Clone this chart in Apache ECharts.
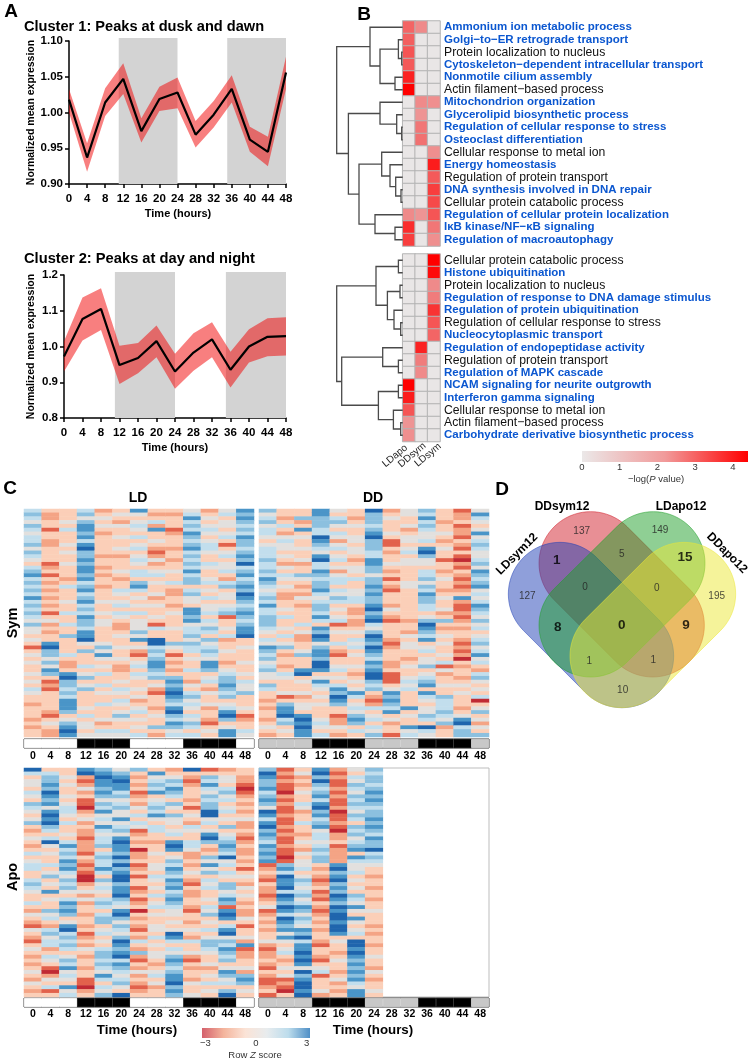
<!DOCTYPE html>
<html>
<head>
<meta charset="utf-8">
<style>html,body{margin:0;padding:0;background:#fff}#main{width:750px;height:1060px}</style>
<script src="https://cdn.jsdelivr.net/npm/echarts@6/dist/echarts.min.js"></script>
</head>
<body>
<div id="main"></div>
<script>
var FONT = 'Liberation Sans'
// panel A
var hours = [0, 4, 8, 12, 16, 20, 24, 28, 32, 36, 40, 44, 48]
var darkBands = [[11, 24], [35, 48]]
var c1Mean = [1.018, 0.937, 1.014, 1.047, 0.974, 1.019, 1.028, 0.969, 0.997, 1.033, 0.962, 0.945, 1.056]
var c1Hi = [1.033, 0.957, 1.034, 1.069, 0.992, 1.036, 1.049, 0.988, 1.016, 1.052, 0.980, 0.966, 1.078]
var c1Lo = [1.000, 0.917, 0.995, 1.026, 0.958, 1.002, 1.006, 0.951, 0.979, 1.014, 0.945, 0.925, 1.033]
var c2Mean = [0.972, 1.077, 1.105, 0.948, 0.968, 1.015, 0.930, 0.983, 1.020, 0.935, 1.000, 1.027, 1.029]
var c2Hi = [1.015, 1.137, 1.163, 1.002, 1.010, 1.059, 0.980, 1.037, 1.068, 0.985, 1.048, 1.079, 1.082]
var c2Lo = [0.930, 1.017, 1.046, 0.895, 0.925, 0.970, 0.882, 0.932, 0.970, 0.885, 0.955, 0.973, 0.975]

// panel B, rows are [LDapo, DDsym, LDsym]
var goCols = ['LDapo', 'DDsym', 'LDsym']
var goTopTerms = ['Ammonium ion metabolic process', 'Golgi\u2212to\u2212ER retrograde transport', 'Protein localization to nucleus', 'Cytoskeleton\u2212dependent intracellular transport', 'Nonmotile cilium assembly', 'Actin filament\u2212based process', 'Mitochondrion organization', 'Glycerolipid biosynthetic process', 'Regulation of cellular response to stress', 'Osteoclast differentiation', 'Cellular response to metal ion', 'Energy homeostasis', 'Regulation of protein transport', 'DNA synthesis involved in DNA repair', 'Cellular protein catabolic process', 'Regulation of cellular protein localization', 'I\u03baB kinase/NF\u2212\u03baB signaling', 'Regulation of macroautophagy']
var goTopBold = [1, 1, 0, 1, 1, 0, 1, 1, 1, 1, 0, 1, 0, 1, 0, 1, 1, 1]
var goTopVals = [[2.6, 1.9, 0], [2.7, 0, 0], [2.9, 0, 0], [2.8, 0, 0], [3.8, 0, 0], [4.4, 0, 0], [0, 1.9, 1.8], [0, 1.7, 0], [0, 2.3, 0], [0, 2.4, 0], [0, 0, 1.8], [0, 0, 3.9], [0, 0, 2.8], [0, 0, 3.3], [0, 0, 3.1], [1.9, 1.7, 2.9], [3.6, 0, 2.3], [3.3, 0, 1.8]]
var goBotTerms = ['Cellular protein catabolic process', 'Histone ubiquitination', 'Protein localization to nucleus', 'Regulation of response to DNA damage stimulus', 'Regulation of protein ubiquitination', 'Regulation of cellular response to stress', 'Nucleocytoplasmic transport', 'Regulation of endopeptidase activity', 'Regulation of protein transport', 'Regulation of MAPK cascade', 'NCAM signaling for neurite outgrowth', 'Interferon gamma signaling', 'Cellular response to metal ion', 'Actin filament\u2212based process', 'Carbohydrate derivative biosynthetic process']
var goBotBold = [0, 1, 0, 1, 1, 0, 1, 1, 0, 1, 1, 1, 0, 0, 1]
var goBotVals = [[0, 0, 4.4], [0, 0, 4.2], [0, 0, 1.9], [0, 0, 2.2], [0, 0, 3.5], [0, 0, 2.9], [0, 0, 2.6], [0, 3.8, 0], [0, 2.2, 0], [0, 1.9, 0], [4.4, 0, 0], [3.9, 0, 0], [2.9, 0, 0], [1.7, 0, 0], [1.8, 0, 0]]
// dendrogram brackets: [node height, row a, height a, row b, height b]
var dendroTop = [[1, 2, 0, 3, 0], [4.3, 1, 0, 2.5, 1], [7.7, 4, 0, 5, 0], [22.7, 1.75, 4.3, 4.5, 7.7], [32.7, 0, 0, 3.1, 22.7], [1, 8, 0, 9, 0], [6, 7, 0, 8.5, 1], [22.7, 6, 0, 7.75, 6], [1.7, 13, 0, 14, 0], [7, 12, 0, 13.5, 1.7], [12.7, 11, 0, 12.75, 7], [21, 10, 0, 11.9, 12.7], [7.7, 16, 0, 17, 0], [27.7, 15, 0, 16.5, 7.7], [43.7, 10.95, 21, 15.75, 27.7], [54.3, 6.9, 22.7, 13.35, 43.7], [66, 1.55, 32.7, 10.1, 54.3]]
var dendroBot = [[4.3, 0, 0, 1, 0], [2.7, 2, 0, 3, 0], [2, 5, 0, 6, 0], [8.7, 4, 0, 5.5, 2], [15.3, 2.5, 2.7, 4.75, 8.7], [26.7, 0.5, 4.3, 3.6, 15.3], [4.3, 8, 0, 9, 0], [20, 7, 0, 8.5, 4.3], [4.3, 10, 0, 11, 0], [2, 13, 0, 14, 0], [9.3, 12, 0, 13.5, 2], [24.3, 10.5, 4.3, 12.75, 9.3], [61, 7.75, 20, 11.6, 24.3], [66, 2.05, 26.7, 9.7, 61]]

// panel C, one string per time column, one digit per row band (0 red .. 4 neutral .. 8 blue)
var ldSymCols = [
  '5654654556 4654356756 5657565654 6443431343 4334343543 3233323233',
  '3223313322 3333123132 3232323134 2323378664 6476312133 3332134322',
  '3334353334 3433433323 5333433533 5336333353 2237866565 7776346787',
  '5646776757 8667677675 6756756576 6577843633 3534634633 3343534434',
  '2343432333 3323323233 2333433434 4333346474 3435335343 3533342354',
  '3432433433 4323334323 3543453543 2234334334 3223343543 5434643354',
  '7434543534 5345435536 7534343534 4464734213 4535433434 2345343435',
  '3235273343 2124234534 3342343343 1533885656 7765634213 3323433632',
  '3233312333 2332334335 3223323433 3433364313 2323676787 6578657645',
  '4575657656 7565657566 3564437767 4556465534 3353324356 4543546535',
  '2343454345 5433543345 3435344535 4653645654 7763453243 3423321343',
  '4534434531 3453445325 6344345613 3435233433 2345667656 3457863477',
  '7676565766 5676856756 7687656765 6778334333 4334354463 3343123354'
]
var ddSymCols = [
  '6456455434 5556556576 5456575566 6543547656 4564436533 2323323432',
  '3323532454 4343243543 4322334353 3435346323 3235433341 3677856343',
  '3362373433 4334233643 2324323333 5342233463 3378343342 3443787877',
  '7766655876 5478557656 6754566575 3768746776 8873475434 3433345435',
  '4356435424 5345342455 3546534345 1343353213 3453435768 7633122432',
  '3323433443 4432344353 3445532232 2343545343 3432343475 3454676353',
  '8666567866 6557766466 7676678678 5468768765 7678865632 1253453546',
  '2343334311 3233432313 2133324321 3333212333 2231113476 7657342331',
  '4433423443 4534433334 4333333332 3324344332 3433454533 3373433745',
  '6575654453 7864435564 6576655346 8765734534 4634567375 4344653854',
  '3332334323 4331332343 3234334236 3234343343 5142334336 5556546233',
  '1223122132 1310213212 1237211212 3233212120 3233234343 3323478566',
  '4754347456 5445647656 7454576546 4534564574 5325643435 0346342436'
]
var ldApoCols = [
  '8534435436 5434632343 2353455335 6543353243 2143213432 3234324323',
  '3566768767 4787865358 4343353463 4373433645 3256455235 4310243513',
  '3343433434 5543533435 7565767546 5643576763 4785656534 6574543745',
  '7821242311 0234232212 2213212100 2342423323 3231232432 3323311023',
  '6787767646 5745475455 6356557536 4543565356 6345343566 5654753546',
  '4678775645 6447456478 7768686788 6778654786 4654687678 5765456438',
  '6323231232 4353541232 3022312313 3123123032 3213253262 1324232123',
  '3745657345 6574355332 3343344354 3435345343 3443534344 3234534233',
  '2346576536 4364434537 8734657657 6756765443 4348753546 7656778676',
  '8321233323 1343254335 5422323432 1322332133 2343253342 1323324334',
  '1365754656 6884534786 3236474635 4533435463 4353466543 3423435343',
  '2344356453 4534363456 7658453543 6645761787 3578465765 6347645368',
  '3322101232 3234223212 3223231343 2434323224 3133427122 3342676343'
]
var ddApoCols = [
  '6876675676 4875786765 7676712321 3221234123 2323342122 3213211231',
  '1212110212 1121121211 2110167587 7858768758 7674743453 2343412103',
  '3423234335 4233533234 3243445346 5456457646 5476857787 8748678878',
  '7868656757 8675674554 5656632321 2312132123 2323321332 1345133342',
  '2121121211 2011210223 1222278678 6768768788 7887343323 4332342323',
  '4354654656 5465365645 6737544534 3436547437 4345388787 6767675477',
  '6566567676 5667676576 6856543323 3233233433 3232332334 3324323343'
]
var ldPhase = [1, 1, 1, 0, 0, 0, 1, 1, 1, 0, 0, 0, 1]
var zColors = ['#c02a34', '#e2624c', '#f4a485', '#fbcfb8', '#e2e0de', '#c2deed', '#8cc0df', '#4a95c8', '#1f65ad']

// panel D, capsules in image-scale units: [x1, y1, x2, y2, radius, colour]
var vennShapes = [
  [302, 250, 488, 436, 155, '#d1202c'],
  [210, 342, 396, 528, 155, '#1f3fb5'],
  [490, 250, 302, 436, 155, '#1f9f2a'],
  [582, 342, 395, 528, 155, '#ebe735']
]
var vennCounts = [['137', 275, 155, 0], ['149', 510, 150, 0], ['127', 112, 350, 0], ['195', 680, 348, 0], ['1', 200, 240, 1], ['5', 395, 222, 0], ['15', 585, 233, 1], ['0', 285, 323, 0], ['0', 500, 326, 0], ['8', 203, 443, 1], ['0', 395, 437, 1], ['9', 588, 435, 1], ['1', 298, 543, 0], ['1', 490, 542, 0], ['10', 398, 630, 0]]

var grids = [], xAxes = [], yAxes = [], series = [], visualMaps = [], texts = []

function addCart(grid, xAxis, yAxis) {
  grids.push(grid)
  xAxis.gridIndex = grids.length - 1
  yAxis.gridIndex = grids.length - 1
  xAxes.push(xAxis)
  yAxes.push(yAxis)
  return grids.length - 1
}

function txt(text, x, y, size, opts) {
  opts = opts || {}
  var font = (opts.bold === false ? '' : 'bold ') + size + 'px "' + FONT + '"'
  var fill = opts.color || '#000'
  texts.push({
    type: 'text', x: x, y: y, rotation: (opts.rot || 0) * Math.PI / 180, z: 50,
    style: {
      text: text, fill: fill, textAlign: opts.align || 'center', textVerticalAlign: 'middle', font: font,
      rich: { i: { font: 'italic ' + size + 'px "' + FONT + '"', fill: fill } }
    }
  })
}

// time course panel with shaded nights and a red band
function addCluster(left, width, top, height, min, max, interval, digits, mean, hi, lo, bandTop, nameGap) {
  var g = addCart({ left: left, top: top, width: width, height: height }, {
    type: 'value', min: 0, max: 48, interval: 4,
    axisLine: { onZero: false, lineStyle: { color: '#000', width: 1.5 } },
    axisTick: { length: 4, lineStyle: { color: '#000', width: 1.5 } },
    splitLine: { show: false },
    axisLabel: { color: '#000', fontFamily: FONT, fontWeight: 'bold', fontSize: 11.5, margin: 9 }
  }, {
    type: 'value', min: min, max: max, interval: interval,
    name: 'Normalized mean expression', nameLocation: 'middle', nameGap: nameGap,
    nameTextStyle: { color: '#000', fontFamily: FONT, fontWeight: 'bold', fontSize: 10.5 },
    axisLine: { show: true, onZero: false, lineStyle: { color: '#000', width: 1.5 } },
    axisTick: { show: true, length: 4, lineStyle: { color: '#000', width: 1.5 } },
    splitLine: { show: false },
    axisLabel: { color: '#000', fontFamily: FONT, fontWeight: 'bold', fontSize: 11.5, margin: 6, formatter: function (v) { return v.toFixed(digits) } }
  })
  series.push({
    type: 'custom', xAxisIndex: g, yAxisIndex: g, clip: false, z: 1, silent: true,
    data: darkBands, encode: { x: [0, 1] },
    renderItem: function (params, api) {
      var a = api.coord([api.value(0), max])
      var b = api.coord([api.value(1), min])
      return { type: 'rect', shape: { x: a[0], y: bandTop, width: b[0] - a[0], height: b[1] - bandTop }, style: { fill: '#d3d3d3' } }
    }
  })
  series.push({
    type: 'custom', xAxisIndex: g, yAxisIndex: g, z: 2, silent: true,
    data: hours.map(function (h, i) { return [h, lo[i], hi[i]] }), encode: { x: 0, y: [1, 2] },
    renderItem: function (params, api) {
      if (params.dataIndex !== 0) return null
      var upper = hours.map(function (h, i) { return api.coord([h, hi[i]]) })
      var lower = hours.map(function (h, i) { return api.coord([h, lo[i]]) }).reverse()
      return { type: 'polygon', shape: { points: upper.concat(lower) }, style: { fill: 'rgba(242,0,0,0.5)' } }
    }
  })
  series.push({
    type: 'line', xAxisIndex: g, yAxisIndex: g, symbol: 'none', z: 3,
    lineStyle: { color: '#000', width: 2.2 }, data: hours.map(function (h, i) { return [h, mean[i]] })
  })
}

// enrichment heatmap + term labels
function addGoHeat(top, vals, terms, bold) {
  var g = addCart({ left: 402.7, top: top, width: 37.3, height: 12.5 * terms.length }, {
    type: 'category', data: goCols, axisLine: { show: false }, axisTick: { show: false }, axisLabel: { show: false }
  }, {
    type: 'category', data: terms, inverse: true, position: 'right', axisLine: { show: false }, axisTick: { show: false },
    axisLabel: {
      show: true, interval: 0, margin: 4,
      formatter: function (v, i) { return (bold[i] ? '{b|' : '{n|') + v + '}' },
      rich: {
        b: { fontFamily: FONT, fontWeight: 'bold', fontSize: 11.5, color: '#0b57d0' },
        n: { fontFamily: FONT, fontSize: 12.2, color: '#111' }
      }
    }
  })
  var data = []
  vals.forEach(function (row, r) { row.forEach(function (v, c) { data.push([c, r, v]) }) })
  visualMaps.push({ show: false, min: 0, max: 4.4, dimension: 2, seriesIndex: series.length, inRange: { color: ['#e9e6e6', '#f07c7c', '#ff0000'] } })
  series.push({ type: 'heatmap', xAxisIndex: g, yAxisIndex: g, data: data, itemStyle: { borderColor: '#b3b3b3', borderWidth: 1 } })
}

function addDendro(top, rows, brackets) {
  var g = addCart({ left: 336, top: top, width: 66.7, height: 12.5 * rows }, { type: 'value', min: 0, max: 66.7, inverse: true, show: false }, { type: 'value', min: -0.5, max: rows - 0.5, inverse: true, show: false })
  series.push({
    type: 'custom', xAxisIndex: g, yAxisIndex: g, silent: true, data: brackets, clip: false,
    encode: { x: [0, 2, 4], y: [1, 3] },
    renderItem: function (params, api) {
      var h = api.value(0), r1 = api.value(1), h1 = api.value(2), r2 = api.value(3), h2 = api.value(4)
      return {
        type: 'polyline',
        shape: { points: [api.coord([h1, r1]), api.coord([h, r1]), api.coord([h, r2]), api.coord([h2, r2])] },
        style: { stroke: '#4a4a4a', lineWidth: 1.3, fill: null }
      }
    }
  })
}

function addZHeat(left, top, width, height, rawCols) {
  var cols = rawCols.map(function (c) { return c.replace(/ /g, '') })
  var rowIdx = cols[0].split('').map(function (d, i) { return i })
  var g = addCart({ left: left, top: top, width: width, height: height }, { type: 'category', data: hours, show: false }, { type: 'category', data: rowIdx, inverse: true, show: false })
  var data = []
  cols.forEach(function (col, c) {
    for (var r = 0; r < col.length; r++) data.push([c, r, +col[r]])
  })
  visualMaps.push({ show: false, min: 0, max: 8, dimension: 2, seriesIndex: series.length, inRange: { color: zColors } })
  series.push({ type: 'heatmap', xAxisIndex: g, yAxisIndex: g, data: data, progressive: 0 })
}

function addPhaseBar(left, top, width, lightColor, margin) {
  var g = addCart({ left: left, top: top, width: width, height: 9, show: true, borderColor: '#333', borderWidth: 1, backgroundColor: '#fff' }, {
    type: 'category', data: hours, axisLine: { show: false }, axisTick: { show: false },
    axisLabel: { interval: 0, margin: margin, color: '#000', fontFamily: FONT, fontWeight: 'bold', fontSize: 10.5 }
  }, { type: 'value', min: 0, max: 1, show: false })
  series.push({
    type: 'bar', xAxisIndex: g, yAxisIndex: g, barWidth: '100%', silent: true,
    data: ldPhase.map(function (p) {
      var color = p ? lightColor : '#000'
      return { value: 1, itemStyle: { color: color, borderColor: color, borderWidth: 0.7 } }
    })
  })
}

// gradient strip with an axis underneath, used by both colour keys
function addKey(left, top, width, height, min, max, ticks, colors, size) {
  var g = addCart({ left: left, top: top, width: width, height: height }, {
    type: 'value', min: min, max: max,
    axisLine: { show: false }, splitLine: { show: false },
    axisTick: { show: false },
    axisLabel: { customValues: ticks, margin: 0, color: '#333', fontFamily: FONT, fontSize: size, showMinLabel: true, showMaxLabel: true, formatter: function (v) { return v < 0 ? '\u2212' + (-v) : v } }
  }, { type: 'value', min: 0, max: 1, show: false })
  series.push({
    type: 'line', xAxisIndex: g, yAxisIndex: g, data: [], silent: true,
    markArea: {
      silent: true,
      itemStyle: { color: new echarts.graphic.LinearGradient(0, 0, 1, 0, colors.map(function (c, i) { return { offset: i / (colors.length - 1), color: c } })), opacity: 1 },
      data: [[{ xAxis: min, yAxis: 0 }, { xAxis: max, yAxis: 1 }]]
    }
  })
}

function addVenn() {
  var g = addCart({ left: 490, top: 480, width: 260, height: 290 }, { type: 'value', min: 0, max: 780, show: false }, { type: 'value', min: 0, max: 870, inverse: true, show: false })
  series.push({
    type: 'custom', xAxisIndex: g, yAxisIndex: g, silent: true, data: vennShapes.map(function (s, i) { return [s[0], s[1], s[2], s[3], s[4], i] }),
    renderItem: function (params, api) {
      var s = vennShapes[params.dataIndex]
      var ang = Math.atan2(s[3] - s[1], s[2] - s[0])
      var pts = []
      for (var k = 0; k <= 40; k++) {
        var a = ang + Math.PI / 2 + Math.PI * k / 40
        pts.push(api.coord([s[0] + s[4] * Math.cos(a), s[1] + s[4] * Math.sin(a)]))
      }
      for (k = 0; k <= 40; k++) {
        a = ang - Math.PI / 2 + Math.PI * k / 40
        pts.push(api.coord([s[2] + s[4] * Math.cos(a), s[3] + s[4] * Math.sin(a)]))
      }
      return { type: 'polygon', shape: { points: pts }, style: { fill: s[5], opacity: 0.5, stroke: s[5], lineWidth: 1 } }
    }
  })
  series.push({
    type: 'scatter', xAxisIndex: g, yAxisIndex: g, symbolSize: 0, silent: true, z: 10,
    data: vennCounts.map(function (c) {
      return {
        value: [c[1], c[2]],
        label: {
          show: true, position: 'inside', formatter: c[0], fontFamily: FONT, color: c[3] ? '#000' : '#222',
          fontWeight: c[3] ? 'bold' : 'normal', fontSize: c[3] ? 13.5 : 10
        }
      }
    })
  })
}

addCluster(69, 217, 41, 143, 0.9, 1.1, 0.05, 2, c1Mean, c1Hi, c1Lo, 38, 32)
addCluster(64, 222, 275, 143, 0.8, 1.2, 0.1, 1, c2Mean, c2Hi, c2Lo, 272, 27)

addGoHeat(21, goTopVals, goTopTerms, goTopBold)
addGoHeat(254, goBotVals, goBotTerms, goBotBold)
addDendro(21, 18, dendroTop)
addDendro(254, 15, dendroBot)
addKey(582, 451, 166, 11, 0, 4.4, [0, 1, 2, 3, 4], ['#ebe8e8', '#f19a9a', '#ff0000'], 9.5)

addZHeat(24, 509, 230, 228, ldSymCols)
addZHeat(259, 509, 230, 228, ddSymCols)
addZHeat(24, 768, 230, 229, ldApoCols)
addCart({ left: 259, top: 768, width: 230, height: 229, show: true, borderColor: '#bdbdbd', borderWidth: 1 }, { type: 'category', data: [], show: false }, { type: 'value', show: false })
addZHeat(259, 768, 230, 229, ddApoCols)
addPhaseBar(24, 739, 230, '#fff', 3)
addPhaseBar(259, 739, 230, '#c8c8c8', 3)
addPhaseBar(24, 998, 230, '#fff', 2)
addPhaseBar(259, 998, 230, '#c8c8c8', 2)
addKey(202, 1028, 108, 10, -3.2, 3.2, [-3, 0, 3], ['#d4606c', '#f4b49c', '#fbe3d6', '#e8ecee', '#bcdcec', '#4f8fc6'], 9.5)

addVenn()

// text
txt('A', 11, 12, 19)
txt('B', 364, 15, 19)
txt('C', 10, 489, 19)
txt('D', 502, 490, 19)
txt('Cluster 1: Peaks at dusk and dawn', 24, 27, 14.6, { align: 'left' })
txt('Cluster 2: Peaks at day and night', 24, 259, 14.7, { align: 'left' })
txt('Time (hours)', 178, 214, 11)
txt('Time (hours)', 175, 448, 11)
txt(goCols[0], 395, 456, 10, { bold: false, color: '#222', rot: 40 })
txt(goCols[1], 412, 455, 10, { bold: false, color: '#222', rot: 40 })
txt(goCols[2], 428, 455, 10, { bold: false, color: '#222', rot: 40 })
txt('\u2212log({i|P} value)', 656, 479, 9.5, { bold: false, color: '#333' })
txt('LD', 138, 498, 14)
txt('DD', 373, 498, 14)
txt('Sym', 13, 623, 14.5, { rot: 90 })
txt('Apo', 13, 877, 14.5, { rot: 90 })
txt('Time (hours)', 137, 1030, 13.3)
txt('Time (hours)', 373, 1030, 13.3)
txt('Row {i|Z} score', 255, 1055, 9.5, { bold: false, color: '#333' })
txt('DDsym12', 562, 507, 12)
txt('LDapo12', 681, 507, 12)
txt('LDsym12', 517, 554, 12, { rot: 45 })
txt('DDapo12', 727, 553, 12, { rot: -45 })

var chart = echarts.init(document.getElementById('main'))
chart.setOption({
  animation: false,
  backgroundColor: '#fff',
  textStyle: { fontFamily: FONT },
  grid: grids,
  xAxis: xAxes,
  yAxis: yAxes,
  visualMap: visualMaps,
  series: series,
  graphic: { elements: texts }
})
</script>
</body>
</html>
